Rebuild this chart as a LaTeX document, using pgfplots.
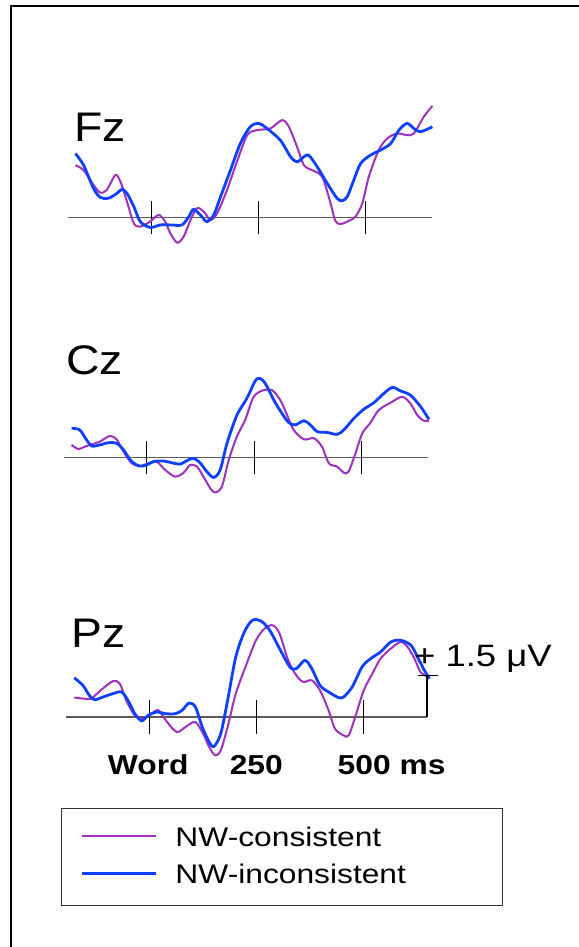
\documentclass[border=0pt]{standalone}
\usepackage{pgfplots}
\pgfplotsset{compat=1.18}
\usepackage{pgfplotstable}
\usepackage{fontspec}
\setmainfont{Liberation Sans}
\newfontfamily\lab{Liberation Sans}[FakeStretch=1.12]
\newfontfamily\labb{Liberation Sans}[FakeStretch=1.16]
\newfontfamily\labw{Liberation Sans}[FakeStretch=1.18]
\definecolor{nwc}{RGB}{160,48,192}
\definecolor{nwi}{RGB}{16,64,255}
\definecolor{basegray}{RGB}{90,90,90}

% ---------- Fz ----------
\pgfplotstableread{
t v
-176 1.89
-157 1.71
-134 1.18
-118 0.90
-103 1.00
-83 1.53
-71 1.29
-56 0.58
-40 -0.20
-25 -0.32
-2 -0.14
18 0.10
33 -0.14
45 -0.56
61 -0.90
76 -0.68
92 -0.08
107 0.34
123 0.22
138 -0.08
154 0.16
177 1.00
200 2.01
224 2.97
247 3.15
278 3.21
305 3.51
321 3.27
340 2.55
356 1.89
375 1.71
391 1.59
402 1.35
418 0.52
429 -0.11
441 -0.23
457 -0.14
476 0.04
492 0.52
507 1.47
530 2.43
550 2.85
573 3.03
596 2.97
612 3.03
635 3.63
655 4.02
}\FzC
\pgfplotstableread{
t v
-176 2.31
-157 1.89
-134 1.06
-118 0.73
-99 0.70
-79 0.88
-68 1.02
-56 0.88
-40 0.40
-25 -0.14
-2 -0.35
22 -0.26
45 -0.26
72 -0.26
88 0.04
99 0.30
115 0.10
130 -0.14
146 0.10
162 0.76
185 1.71
208 2.67
231 3.27
251 3.39
270 3.21
301 2.79
325 2.19
340 2.01
356 2.19
367 2.25
387 1.83
410 1.24
433 0.70
445 0.61
457 0.76
472 1.35
488 1.95
511 2.25
534 2.43
558 2.67
577 3.15
596 3.39
612 3.21
627 3.09
655 3.27
}\FzI
% ---------- Cz ----------
\pgfplotstableread{
t v
-175 0.46
-159 0.31
-144 0.40
-128 0.48
-109 0.58
-86 0.78
-70 0.66
-54 0.22
-35 -0.20
-16 -0.30
4 -0.20
23 -0.14
43 -0.44
66 -0.68
86 -0.54
101 -0.26
117 -0.32
132 -0.68
148 -1.10
159 -1.25
175 -1.04
191 -0.08
210 0.76
229 1.35
249 2.19
272 2.43
292 2.43
311 2.07
327 1.53
342 1.00
366 0.66
389 0.70
408 0.40
424 -0.20
443 -0.32
459 -0.54
470 -0.50
486 0.16
502 0.88
521 1.26
540 1.71
568 1.98
595 2.19
614 1.95
630 1.53
645 1.33
657 1.33
}\CzC
\pgfplotstableread{
t v
-175 1.06
-156 1.00
-140 0.64
-128 0.42
-109 0.46
-89 0.54
-70 0.52
-54 0.28
-35 -0.14
-16 -0.30
0 -0.26
16 -0.14
39 -0.12
58 -0.18
78 -0.23
93 -0.11
109 -0.02
124 -0.18
140 -0.50
156 -0.71
171 -0.44
187 0.52
210 1.53
233 2.13
253 2.77
264 2.85
276 2.67
296 2.07
315 1.59
331 1.26
346 1.18
366 1.33
381 1.18
397 0.94
420 0.91
443 0.84
459 1.00
482 1.41
505 1.74
529 1.98
552 2.31
572 2.53
591 2.40
614 2.25
638 1.83
657 1.38
}\CzI
% ---------- Pz ----------
\pgfplotstableread{
t v
-174 0.70
-151 0.66
-135 0.66
-111 0.98
-84 1.29
-68 1.20
-53 0.60
-33 0.06
-13 -0.06
6 0.12
22 0.24
42 -0.18
65 -0.54
85 -0.36
108 -0.18
128 -0.66
140 -1.08
154 -1.38
167 -1.20
183 -0.36
202 0.84
226 1.86
249 2.76
269 3.18
288 3.30
304 3.00
324 2.04
343 1.50
359 1.26
379 1.32
398 0.96
418 0.24
433 -0.42
453 -0.66
465 -0.66
480 0.00
500 0.96
520 1.56
539 2.10
563 2.46
586 2.70
602 2.52
618 2.10
632 1.62
649 1.44
}\PzC
\pgfplotstableread{
t v
-174 1.41
-154 1.14
-139 0.78
-127 0.62
-107 0.72
-84 0.84
-64 0.90
-49 0.60
-33 0.12
-17 -0.14
-2 0.06
18 0.18
38 0.12
61 0.12
77 0.24
93 0.50
108 0.36
124 -0.36
140 -0.90
151 -1.06
167 -0.60
183 0.60
202 2.16
222 3.06
241 3.48
261 3.45
281 3.12
304 2.46
328 1.80
343 1.74
363 2.04
379 1.74
398 1.14
418 0.90
441 0.70
453 0.72
473 1.08
496 1.80
516 2.10
539 2.34
563 2.70
586 2.76
610 2.58
625 2.16
641 1.68
653 1.38
}\PzI

\pgfplotsset{
  erp/.style={scale only axis, width=386.6bp, height=194.6bp,
    xmin=-200, xmax=700, ymin=-2, ymax=5, hide axis, clip=false,
    anchor=south west},
  baseln/.style={basegray, line width=1.3bp, forget plot},
  tck/.style={black, line width=1bp, forget plot},
  cons/.style={nwc, line width=2bp, smooth},
  incons/.style={nwi, line width=2.8bp, smooth},
}

\begin{document}
\begin{tikzpicture}
\path[use as bounding box] (0,0) rectangle (579bp,-947bp);
\fill[white] (0,0) rectangle (579bp,-947bp);
\draw[line width=1.8bp] (10.8bp,-960bp) -- (10.8bp,-6.2bp) -- (600bp,-6.2bp);

% Fz
\begin{axis}[erp, at={(65.1bp,-273.3bp)}]
\addplot[baseln] coordinates {(-193,0) (653,0)};
\addplot[tck] coordinates {(0,-0.6) (0,0.6)};
\addplot[tck] coordinates {(250,-0.6) (250,0.6)};
\addplot[tck] coordinates {(500,-0.6) (500,0.6)};
\addplot[cons, forget plot] table {\FzC};
\addplot[incons, forget plot] table {\FzI};
\end{axis}

% Cz
\begin{axis}[erp, at={(60.8bp,-513.3bp)}]
\addplot[baseln] coordinates {(-193,0) (655,0)};
\addplot[tck] coordinates {(0,-0.6) (0,0.6)};
\addplot[tck] coordinates {(250,-0.6) (250,0.6)};
\addplot[tck] coordinates {(500,-0.6) (500,0.6)};
\addplot[cons, forget plot] table {\CzC};
\addplot[incons, forget plot] table {\CzI};
\end{axis}

% Pz
\begin{axis}[erp, at={(63.1bp,-772.6bp)},
  legend style={at={(axis description cs:0.0455,-0.2847)}, anchor=north west,
    draw=none, fill=none, inner sep=0pt, outer sep=0pt,
    font=\labw\fontsize{27}{30}\selectfont,
    row sep=19.3bp, column sep=17.7bp,
    nodes={inner sep=0pt, text height=18bp, text depth=0bp},
    cells={anchor=base west}},
  legend image code/.code={\draw[#1] (0bp,10bp) -- (74.3bp,10bp);}]
\addplot[baseln] coordinates {(-193,0) (648,0)};
\addplot[tck] coordinates {(0,-0.6) (0,0.6)};
\addplot[tck] coordinates {(250,-0.6) (250,0.6)};
\addplot[tck] coordinates {(500,-0.6) (500,0.6)};
\addplot[cons] table {\PzC};
\addlegendentry{NW-consistent}
\addplot[incons] table {\PzI};
\addlegendentry{NW-inconsistent}
\addplot[black, line width=2bp, forget plot] coordinates {(648,0) (648,1.5)};
\addplot[black, line width=1.5bp, forget plot] coordinates {(627,1.5) (673.6,1.5)};
\end{axis}

% labels
\node[anchor=base west, inner sep=0, font=\lab\fontsize{41.5}{44}\selectfont] at (74bp,-141bp) {Fz};
\node[anchor=base west, inner sep=0, font=\lab\fontsize{41.5}{44}\selectfont] at (66bp,-374.5bp) {Cz};
\node[anchor=base west, inner sep=0, font=\lab\fontsize{41.5}{44}\selectfont] at (71.5bp,-647bp) {Pz};

\node[anchor=base, inner sep=0, font=\labb\bfseries\fontsize{27.5}{30}\selectfont] at (148.3bp,-774.3bp) {Word};
\node[anchor=base, inner sep=0, font=\labb\bfseries\fontsize{27.5}{30}\selectfont] at (256.3bp,-774.3bp) {250};
\node[anchor=base west, inner sep=0, font=\labb\bfseries\fontsize{27.5}{30}\selectfont] at (337.5bp,-774.3bp) {500 ms};

\node[anchor=base west, inner sep=0, font=\labw\fontsize{31}{34}\selectfont] at (414bp,-666bp) {+ 1.5 μV};

% legend frame
\draw[black!80, line width=1bp] (61.7bp,-808.3bp) rectangle (502.7bp,-905bp);
\end{tikzpicture}
\end{document}
